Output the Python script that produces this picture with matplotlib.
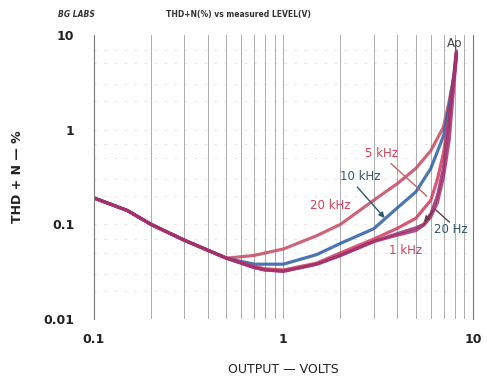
import numpy as np
import matplotlib
matplotlib.use('Agg')
import matplotlib.pyplot as plt

# THD+N vs output level
v_common = [0.1, 0.15, 0.2, 0.3, 0.5]
thd_common = [0.19, 0.14, 0.1, 0.068, 0.044]

v_20k = [0.7, 1, 1.5, 2, 3, 4, 5, 6, 7, 7.5, 8, 8.2]
thd_20k = [0.047, 0.055, 0.076, 0.1, 0.18, 0.27, 0.39, 0.6, 1.07, 2.0, 4.0, 6.5]

v_10k = [0.7, 1, 1.5, 2, 3, 4, 5, 6, 7, 7.5, 8, 8.2]
thd_10k = [0.038, 0.038, 0.048, 0.063, 0.09, 0.15, 0.22, 0.39, 0.86, 1.8, 4.0, 6.5]

v_5k = [0.7, 0.8, 1, 1.5, 2, 3, 4, 5, 6, 6.5, 7, 7.5, 8, 8.2]
thd_5k = [0.036, 0.034, 0.033, 0.039, 0.05, 0.07, 0.091, 0.116, 0.18, 0.3, 0.57, 1.4, 4.0, 6.8]

v_1k = [0.7, 0.8, 1, 1.5, 2, 3, 4, 5, 5.5, 6, 6.5, 7, 7.5, 8, 8.15]
thd_1k = [0.035, 0.033, 0.032, 0.038, 0.047, 0.066, 0.08, 0.092, 0.1, 0.13, 0.2, 0.4, 1.2, 4.5, 6.5]

v_20 = [0.7, 0.8, 1, 1.5, 2, 3, 4, 5, 5.5, 6, 6.5, 7, 7.5, 8, 8.2]
thd_20 = [0.035, 0.033, 0.032, 0.038, 0.047, 0.066, 0.077, 0.086, 0.098, 0.12, 0.17, 0.32, 0.78, 3.5, 6.0]

series = [
    (v_20k, thd_20k, '#c44a62'),
    (v_10k, thd_10k, '#2d5ea6'),
    (v_5k, thd_5k, '#d23a5c'),
    (v_1k, thd_1k, '#8c3576'),
    (v_20, thd_20, '#a8306c'),
]

fig = plt.figure(figsize=(4.87, 3.79), dpi=100)
ax = fig.add_axes([0.193, 0.158, 0.778, 0.750])

for vx, ty, col in series:
    x = v_common + vx
    y = thd_common + ty
    ax.plot(x, y, color=col, lw=2.3, alpha=0.85, solid_capstyle='round', solid_joinstyle='round')

ax.set_xscale('log')
ax.set_yscale('log')
ax.set_xlim(0.1, 10)
ax.set_ylim(0.01, 10)

# scanned-paper style grid
for d in [0.1, 1]:
    for m in range(2, 10):
        ax.axvline(d * m, color='#888888', lw=0.7, alpha=0.7, zorder=0)
ax.axvline(1, color='#888888', lw=0.7, alpha=0.7, zorder=0)
for d in [0.01, 0.1, 1]:
    for m in [1, 2, 3, 5, 7]:
        ax.axhline(d * m, color='#bbbbbb', lw=0.6, ls=(0, (3, 9)), alpha=0.5, zorder=0)

for s in ['top', 'bottom']:
    ax.spines[s].set_visible(False)
for s in ['left', 'right']:
    ax.spines[s].set_color('#777777')
    ax.spines[s].set_linewidth(0.8)

ax.set_xticks([0.1, 1, 10])
ax.set_xticklabels(['0.1', '1', '10'])
ax.set_yticks([0.01, 0.1, 1, 10])
ax.set_yticklabels(['0.01', '0.1', '1', '10'])
ax.minorticks_off()
ax.tick_params(length=0, labelsize=9, pad=10)
ax.tick_params(axis='y', pad=14)
for t in ax.get_xticklabels() + ax.get_yticklabels():
    t.set_fontweight('bold')
    t.set_color('#222222')

ax.set_xlabel('OUTPUT — VOLTS', fontsize=9, labelpad=12, color='#222222')
ax.set_ylabel('THD + N — %', fontsize=9, fontweight='bold', labelpad=14, color='#222222')

fig.text(0.12, 0.955, 'BG LABS', fontsize=5.5, fontweight='bold', style='italic', color='#333333')
fig.text(0.34, 0.955, 'THD+N(%) vs measured LEVEL(V)', fontsize=5.5, fontweight='bold', color='#333333')

# curve labels
red = '#d0405a'
teal = '#2b5a72'
ax.text(1.77, 0.16, '20 kHz', color=red, fontsize=8.5, ha='center', va='center')
ax.text(3.3, 0.56, '5 kHz', color=red, fontsize=8.5, ha='center', va='center')
ax.text(4.4, 0.053, '1 kHz', color=red, fontsize=8.5, ha='center', va='center')
ax.text(2.55, 0.32, '10 kHz', color=teal, fontsize=8.5, ha='center', va='center')
ax.text(7.65, 0.0875, '20 Hz', color=teal, fontsize=8.5, ha='center', va='center')
ax.text(8.0, 8.1, 'Ap', color='#444444', fontsize=8.5, ha='center', va='center')

ax.annotate('', xy=(3.5, 0.111), xytext=(2.4, 0.26),
            arrowprops=dict(arrowstyle='-|>', color=teal, lw=1.0, mutation_scale=8))
ax.annotate('', xy=(5.85, 0.19), xytext=(3.6, 0.46),
            arrowprops=dict(arrowstyle='-', color='#c86070', lw=1.0))
ax.plot([7.5, 6.3], [0.106, 0.145], color='#6a3a4a', lw=1.0)
ax.annotate('', xy=(5.4, 0.101), xytext=(6.3, 0.145),
            arrowprops=dict(arrowstyle='-|>', color='#6a3a4a', lw=1.0, mutation_scale=8))

fig.savefig('out.png', dpi=100)
